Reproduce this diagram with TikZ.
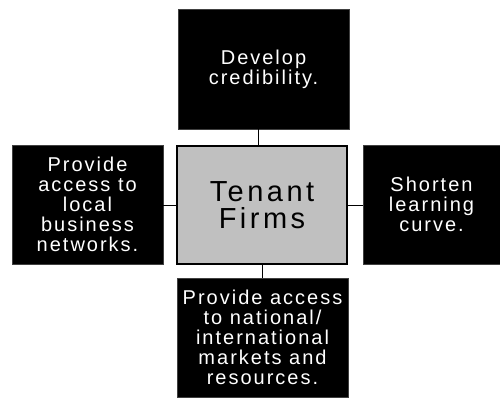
\documentclass[tikz,border=0pt]{standalone}
\usepackage{fontspec}
\setmainfont{Liberation Sans}
\newfontfamily\spacedfont[LetterSpace=10]{Liberation Sans}
\newfontfamily\hubfont[LetterSpace=12]{Liberation Sans}
\definecolor{firmgray}{HTML}{C0C0C0}
\begin{document}
\begin{tikzpicture}[x=1pt,y=-1pt,
  outer box/.style={draw=black!75,line width=0.6pt,fill=black,text=white,align=center,inner sep=0pt,
    font=\spacedfont\fontsize{20}{20}\selectfont},
  hub box/.style={draw=black,line width=1.6pt,fill=firmgray,align=center,inner sep=0pt,
    font=\hubfont\fontsize{29}{27}\selectfont},
  link/.style={line width=1pt}]
\useasboundingbox (0,0) rectangle (500,397);
\node[hub box,minimum width=170pt,minimum height=118pt] (firms) at (262,205) {Tenant\\Firms};
\node[outer box,minimum width=171pt,minimum height=120pt] (cred) at (263.5,69) {Develop\\credibility.};
\node[outer box,minimum width=151pt,minimum height=119pt] (local) at (87.5,204.5) {Provide\\access to\\local\\business\\networks.};
\node[outer box,minimum width=137pt,minimum height=119pt] (curve) at (431.5,204.5) {Shorten\\learning\\curve.};
\node[outer box,minimum width=171pt,minimum height=119pt] (markets) at (262.5,337.5) {Provide access\\to national/\\international\\markets and\\resources.};
% short ties from the hub to each box
\draw[link] ([xshift=-4pt]firms.north) -- ([xshift=-4pt]firms.north |- cred.south);
\draw[link] (firms.west) -- (firms.west -| local.east);
\draw[link] (firms.east) -- (firms.east -| curve.west);
\draw[link] (firms.south) -- (firms.south |- markets.north);
\end{tikzpicture}
\end{document}
